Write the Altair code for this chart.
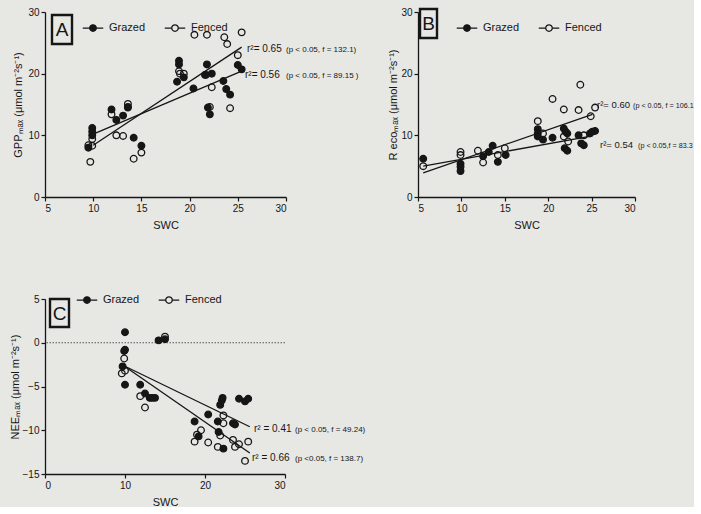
import altair as alt
import pandas as pd

FONT = "Liberation Sans"
INK = "#161616"
BG = "#e7e7e4"
SERIES = ["Grazed", "Fenced"]

# ---------------- Panel A : GPPmax vs SWC ----------------
a_grazed_swc = [9.5, 9.9, 9.9, 9.9, 11.9, 12.4, 13.1, 13.6, 14.2, 15.0, 18.9, 18.9, 18.7, 19.4,
                20.4, 21.8, 21.6, 22.3, 21.9, 22.1, 23.5, 23.8, 24.2, 25.0, 25.4]
a_grazed_val = [8.0, 11.2, 10.6, 10.0, 14.2, 12.5, 13.2, 14.5, 9.6, 8.3, 22.1, 21.5, 18.7, 19.4,
                17.6, 21.5, 19.8, 20.0, 14.5, 13.4, 18.8, 17.5, 16.6, 21.4, 20.7]
a_fenced_swc = [9.5, 9.9, 9.7, 9.9, 11.9, 12.4, 13.1, 13.6, 13.6, 14.2, 15.0, 18.9, 19.0, 19.4,
                20.5, 21.8, 21.7, 22.3, 22.1, 23.6, 23.9, 24.2, 25.0, 25.4]
a_fenced_val = [8.4, 8.3, 5.7, 9.4, 13.4, 10.0, 9.9, 15.1, 14.6, 6.2, 7.2, 20.4, 20.0, 20.0,
                26.3, 26.3, 19.8, 17.8, 14.6, 25.9, 24.8, 14.4, 23.0, 26.7]
a_fit_swc = [10.0, 25.4]
a_fit_grazed = [10.2, 20.4]
a_fit_fenced = [8.4, 24.3]

# ---------------- Panel B : Recomax vs SWC ----------------
b_grazed_swc = [5.6, 9.9, 9.9, 9.9, 12.5, 13.15, 13.6, 14.2, 15.1, 18.8, 18.8, 18.8, 19.4, 20.5,
                21.8, 22.0, 22.2, 21.9, 22.2, 23.5, 23.8, 24.1, 24.8, 25.1, 25.4]
b_grazed_val = [6.2, 5.4, 4.9, 4.2, 6.6, 7.3, 8.3, 5.7, 6.8, 11.0, 10.3, 9.8, 9.3, 9.6,
                11.1, 10.6, 10.3, 7.9, 7.5, 10.0, 8.7, 8.4, 10.3, 10.6, 10.7]
b_fenced_swc = [5.6, 9.9, 9.9, 11.9, 12.5, 14.2, 15.0, 18.8, 19.4, 20.5, 21.8, 21.8, 22.3,
                23.5, 23.7, 24.1, 24.9, 25.4]
b_fenced_val = [5.0, 7.3, 6.8, 7.5, 5.6, 6.8, 7.9, 12.3, 10.3, 15.9, 14.2, 9.8, 9.0,
                14.1, 18.2, 10.0, 13.1, 14.5]
b_fit_swc = [5.6, 25.1]
b_fit_grazed = [5.0, 9.9]
b_fit_fenced = [3.9, 13.4]

# ---------------- Panel C : NEEmax vs SWC ----------------
c_grazed_swc = [10.0, 10.0, 9.9, 9.7, 10.0, 11.9, 12.5, 13.1, 13.4, 13.75, 14.2, 15.0, 18.7, 19.2,
                20.4, 21.6, 21.9, 22.1, 22.2, 21.7, 22.3, 23.5, 23.75, 24.25, 25.0, 25.4]
c_grazed_val = [1.2, -0.8, -0.95, -2.7, -4.8, -4.8, -5.8, -6.3, -6.3, -6.3, 0.27, 0.4, -9.0, -10.7,
                -8.2, -9.0, -7.1, -6.6, -6.3, -10.2, -12.1, -9.2, -9.35, -6.4, -6.7, -6.4]
c_fenced_swc = [9.9, 9.6, 10.0, 15.0, 11.9, 12.5, 18.7, 19.0, 19.5, 20.4, 21.6, 21.9, 22.3, 22.3,
                23.5, 23.75, 24.25, 25.0, 25.4]
c_fenced_val = [-1.8, -3.5, -3.2, 0.7, -6.1, -7.4, -11.3, -10.5, -10.0, -11.4, -11.9, -10.6, -8.3, -9.2,
                -11.1, -11.9, -11.6, -13.5, -11.3]
c_fit_swc = [9.8, 25.6]
c_fit_grazed = [-2.6, -9.6]
c_fit_fenced = [-2.6, -12.6]

# legend symbol: short line with a circle in the middle
LEGEND_SYMBOL = "M-1,0L-0.32,0M0.32,0L1,0M0.32,0A0.32,0.32,0,1,1,-0.32,0A0.32,0.32,0,1,1,0.32,0Z"


def points_df(gx, gy, fx, fy):
    return pd.DataFrame({"swc": gx + fx, "val": gy + fy,
                         "series": ["Grazed"] * len(gx) + ["Fenced"] * len(fx)})


def fit_df(x, g, f):
    return pd.DataFrame({"swc": x + x, "val": g + f,
                         "series": ["Grazed"] * len(x) + ["Fenced"] * len(x)})


ONE = pd.DataFrame({"k": [0]})


def note(txt, px, py, size):
    return alt.Chart(ONE).mark_text(align="left", baseline="middle", font=FONT,
                                    fontSize=size, color=INK).encode(
        x=alt.value(px), y=alt.value(py), text=alt.value(txt))


def panel(pts, fit, xdom, xticks, ydom, yticks, ytitle, ytpad, w, h,
          leg_x, leg_y, letter, box, letter_xy, notes, zero_line=False):
    xs = alt.Scale(domain=xdom, nice=False, zero=False)
    ys = alt.Scale(domain=ydom, nice=False, zero=False)
    xax = alt.Axis(values=xticks, title="SWC", titlePadding=6, format="d")
    yax = alt.Axis(values=yticks, title=ytitle, titlePadding=ytpad, format="d")
    points = alt.Chart(pts).mark_point(shape="circle", size=44, filled=True, opacity=1,
                                       stroke=INK, strokeWidth=1.3).encode(
        x=alt.X("swc:Q", scale=xs, axis=xax),
        y=alt.Y("val:Q", scale=ys, axis=yax),
        fill=alt.Fill("series:N", scale=alt.Scale(domain=SERIES, range=[INK, "transparent"]),
                      legend=alt.Legend(title=None, orient="none", legendX=leg_x, legendY=leg_y,
                                        direction="horizontal", symbolType=LEGEND_SYMBOL,
                                        symbolSize=420, symbolStrokeColor=INK,
                                        symbolStrokeWidth=1.3, symbolOpacity=1,
                                        labelFont=FONT, labelFontSize=11, labelColor=INK,
                                        labelOffset=5, columnPadding=16, padding=0)),
    )
    lines = alt.Chart(fit).mark_line(color=INK, strokeWidth=1.3).encode(
        x=alt.X("swc:Q", scale=xs), y=alt.Y("val:Q", scale=ys), detail="series:N")
    frame = alt.Chart(ONE).mark_rect(filled=False, stroke=INK, strokeWidth=2.4).encode(
        x=alt.value(box[0]), x2=alt.value(box[1]), y=alt.value(box[2]), y2=alt.value(box[3]))
    lab = alt.Chart(ONE).mark_text(font=FONT, fontSize=19, color=INK, align="center",
                                   baseline="middle").encode(
        x=alt.value(letter_xy[0]), y=alt.value(letter_xy[1]), text=alt.value(letter))
    layers = []
    if zero_line:
        layers.append(alt.Chart(ONE).mark_rule(color="#555555", strokeWidth=1,
                                               strokeDash=[1.5, 1.5]).encode(
            y=alt.datum(0, scale=ys)))
    layers += [lines, points, frame, lab]
    layers += [note(*n) for n in notes]
    return alt.layer(*layers).properties(width=w, height=h)


A = panel(points_df(a_grazed_swc, a_grazed_val, a_fenced_swc, a_fenced_val),
          fit_df(a_fit_swc, a_fit_grazed, a_fit_fenced),
          [5, 30], [5, 10, 15, 20, 25, 30], [0, 30], [0, 10, 20, 30],
          "GPPₘₐₓ (μmol m⁻²s⁻¹)", 4, 241, 185, 37, 5, "A", (7, 27, 3, 32), (17, 17.5),
          [("r²= 0.65", 202, 37, 10), ("(p < 0.05, f = 132.1)", 241, 38, 8),
           ("r²= 0.56", 200, 63, 10), ("(p < 0.05, f = 89.15  )", 241, 64, 8)])

B = panel(points_df(b_grazed_swc, b_grazed_val, b_fenced_swc, b_fenced_val),
          fit_df(b_fit_swc, b_fit_grazed, b_fit_fenced),
          [5, 30], [5, 10, 15, 20, 25, 30], [0, 30], [0, 10, 20, 30],
          "R ecoₘₐₓ (μmol m⁻²s⁻¹)", 2, 217, 185, 38, 5, "B", (2, 19, -3, 26), (10.5, 11.5),
          [("r²= 0.60", 179, 93, 9.5), ("(p < 0.05, f = 106.1", 215, 94, 7.2),
           ("r²= 0.54", 182, 133, 9.5), ("(p < 0.05,f = 83.3", 220, 134, 7.2)])

C = panel(points_df(c_grazed_swc, c_grazed_val, c_fenced_swc, c_fenced_val),
          fit_df(c_fit_swc, c_fit_grazed, c_fit_fenced),
          [0, 30], [0, 10, 20, 30], [-15, 5], [-15, -10, -5, 0, 5],
          "NEEₘₐₓ (μmol m⁻²s⁻¹)", 2, 240, 175, 31, -10, "C", (5, 24, 0, 28), (14.5, 14.5),
          [("r² = 0.41", 209, 130, 10), ("(p < 0.05, f = 49.24)", 250, 131, 8),
           ("r² = 0.66", 207, 159, 10), ("(p <0.05, f = 138.7)", 250, 160, 8)],
          zero_line=True)

chart = alt.concat(A, B, C, columns=2, spacing={"row": 102, "column": 132}, bounds="flush").resolve_scale(
    fill="independent").resolve_legend(fill="independent").properties(
    background=BG, padding={"left": 9, "top": 7, "right": 0, "bottom": 0}
).configure_view(stroke=None).configure_axis(
    grid=False, domainColor=INK, domainWidth=1.3, tickColor=INK, tickWidth=1.2, tickSize=4,
    labelFont=FONT, labelFontSize=10, labelColor=INK, labelPadding=2,
    titleFont=FONT, titleFontSize=11, titleFontWeight="normal", titleColor=INK
)

chart.save("out.html", embed_options={"renderer": "svg", "actions": False})
